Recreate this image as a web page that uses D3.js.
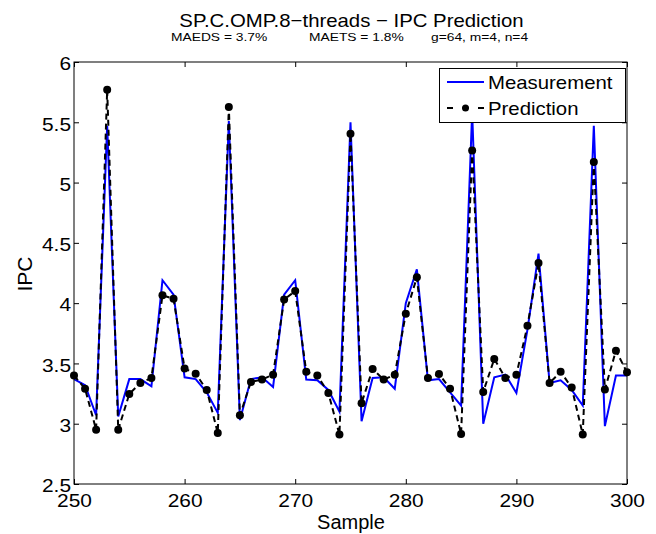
<!DOCTYPE html>
<html>
<head>
<meta charset="utf-8">
<script src="https://cdn.jsdelivr.net/npm/d3@7"></script>
<style>
  body { margin: 0; background: #fff; }
  svg { font-family: "Liberation Sans", Arial, Helvetica, sans-serif; }
</style>
</head>
<body>
<svg id="chart" width="656" height="534"></svg>
<script>
// samples 250..300
const samples = d3.range(250, 301);
const measurement = [3.37, 3.32, 3.07, 5.47, 3.06, 3.37, 3.37, 3.31, 4.19, 4.07,
  3.385, 3.37, 3.26, 3.09, 5.51, 3.03, 3.37, 3.385, 3.305, 4.07,
  4.19, 3.366, 3.36, 3.28, 3.10, 5.50, 3.02, 3.38, 3.385, 3.29,
  4.0, 4.28, 3.36, 3.37, 3.26, 3.15, 5.58, 3.0, 3.385, 3.407,
  3.255, 3.78, 4.41, 3.338, 3.36, 3.28, 3.15, 5.47, 2.98, 3.40, 3.40];
const prediction = [3.40, 3.29, 2.95, 5.77, 2.95, 3.247, 3.338, 3.38, 4.065, 4.037,
  3.457, 3.415, 3.28, 2.924, 5.627, 3.07, 3.347, 3.366, 3.407, 4.03,
  4.10, 3.43, 3.40, 3.255, 2.91, 5.405, 3.17, 3.454, 3.366, 3.407,
  3.913, 4.214, 3.38, 3.413, 3.29, 2.915, 5.267, 3.264, 3.537, 3.38,
  3.407, 3.813, 4.333, 3.338, 3.43, 3.30, 2.91, 5.17, 3.283, 3.606, 3.426];
const xTicks = [250, 260, 270, 280, 290, 300];
const yTicks = [2.5, 3, 3.5, 4, 4.5, 5, 5.5, 6];

const svg = d3.select("#chart");
const mLeft = 74, mRight = 627, mTop = 62, mBottom = 484;

const x = d3.scaleLinear().domain([250, 300]).range([mLeft, mRight]);
const y = d3.scaleLinear().domain([2.5, 6]).range([mBottom, mTop]);

// the original text is a bit wider than Liberation Sans, stretch it
function widen(sel, k) {
  sel.each(function () {
    const w = this.getComputedTextLength();
    d3.select(this).attr("textLength", w * k).attr("lengthAdjust", "spacingAndGlyphs");
  });
}

// title
svg.append("text").attr("x", 351.5).attr("y", 27).attr("text-anchor", "middle")
  .attr("font-size", 18.5).text("SP.C.OMP.8\u2212threads \u2212 IPC Prediction")
  .call(widen, 1.1);
const subParts = [["MAEDS = 3.7%", 171], ["MAETS = 1.8%", 309], ["g=64, m=4, n=4", 431]];
svg.append("g").selectAll("text").data(subParts).join("text")
  .attr("x", d => d[1]).attr("y", 41).attr("font-size", 11.5).text(d => d[0])
  .call(widen, 1.2);

// axes (ticks inward, box)
const tl = 5;
svg.append("g").attr("transform", `translate(0,${mBottom})`)
  .call(d3.axisBottom(x).tickValues(xTicks).tickSizeInner(-tl).tickSizeOuter(0).tickPadding(10))
  .call(g => g.select(".domain").remove())
  .call(g => g.selectAll("text").attr("font-size", 18.5).attr("fill", "#000").attr("font-family", null).call(widen, 1.13));
svg.append("g").attr("transform", `translate(0,${mTop})`)
  .call(d3.axisTop(x).tickValues(xTicks).tickSizeInner(-tl).tickSizeOuter(0).tickFormat(""))
  .call(g => g.select(".domain").remove());
svg.append("g").attr("transform", `translate(${mLeft},0)`)
  .call(d3.axisLeft(y).tickValues(yTicks).tickSizeInner(-tl).tickSizeOuter(0).tickPadding(3).tickFormat(d3.format("")))
  .call(g => g.select(".domain").remove())
  .call(g => g.selectAll("text").attr("font-size", 18.5).attr("fill", "#000").attr("font-family", null)
    .attr("dy", "0.42em").call(widen, 1.13));
svg.append("g").attr("transform", `translate(${mRight},0)`)
  .call(d3.axisRight(y).tickValues(yTicks).tickSizeInner(-tl).tickSizeOuter(0).tickFormat(""))
  .call(g => g.select(".domain").remove());

svg.append("text").attr("x", 351).attr("y", 529).attr("text-anchor", "middle")
  .attr("font-size", 20).text("Sample");
svg.append("text").attr("transform", "translate(32,274) rotate(-90)").attr("text-anchor", "middle")
  .attr("font-size", 21).text("IPC");

const line = (vals) => d3.line().x((d, i) => x(samples[i])).y(d => y(d))(vals);

svg.append("path").attr("d", line(measurement)).attr("fill", "none")
  .attr("stroke", "#0000ff").attr("stroke-width", 2);
svg.append("path").attr("d", line(prediction)).attr("fill", "none")
  .attr("stroke", "#000").attr("stroke-width", 2).attr("stroke-dasharray", "6,4");
svg.append("g").selectAll("circle").data(prediction).join("circle")
  .attr("cx", (d, i) => x(samples[i])).attr("cy", d => y(d)).attr("r", 4).attr("fill", "#000");

svg.append("rect").attr("x", mLeft).attr("y", mTop).attr("width", mRight - mLeft).attr("height", mBottom - mTop)
  .attr("fill", "none").attr("stroke", "#000").attr("stroke-width", 1);

// legend
const lg = svg.append("g");
lg.append("rect").attr("x", 439.5).attr("y", 68.5).attr("width", 186).attr("height", 54)
  .attr("fill", "#fff").attr("stroke", "#000").attr("stroke-width", 1);
lg.append("line").attr("x1", 447).attr("x2", 484).attr("y1", 82).attr("y2", 82)
  .attr("stroke", "#0000ff").attr("stroke-width", 2);
lg.append("line").attr("x1", 447).attr("x2", 484).attr("y1", 108).attr("y2", 108)
  .attr("stroke", "#000").attr("stroke-width", 2).attr("stroke-dasharray", "6,9.5");
lg.append("circle").attr("cx", 465.5).attr("cy", 108).attr("r", 3.5).attr("fill", "#000");
lg.append("text").attr("x", 488).attr("y", 89).attr("font-size", 18.5).text("Measurement").call(widen, 1.1);
lg.append("text").attr("x", 488).attr("y", 114.5).attr("font-size", 18.5).text("Prediction").call(widen, 1.1);
</script>
</body>
</html>
